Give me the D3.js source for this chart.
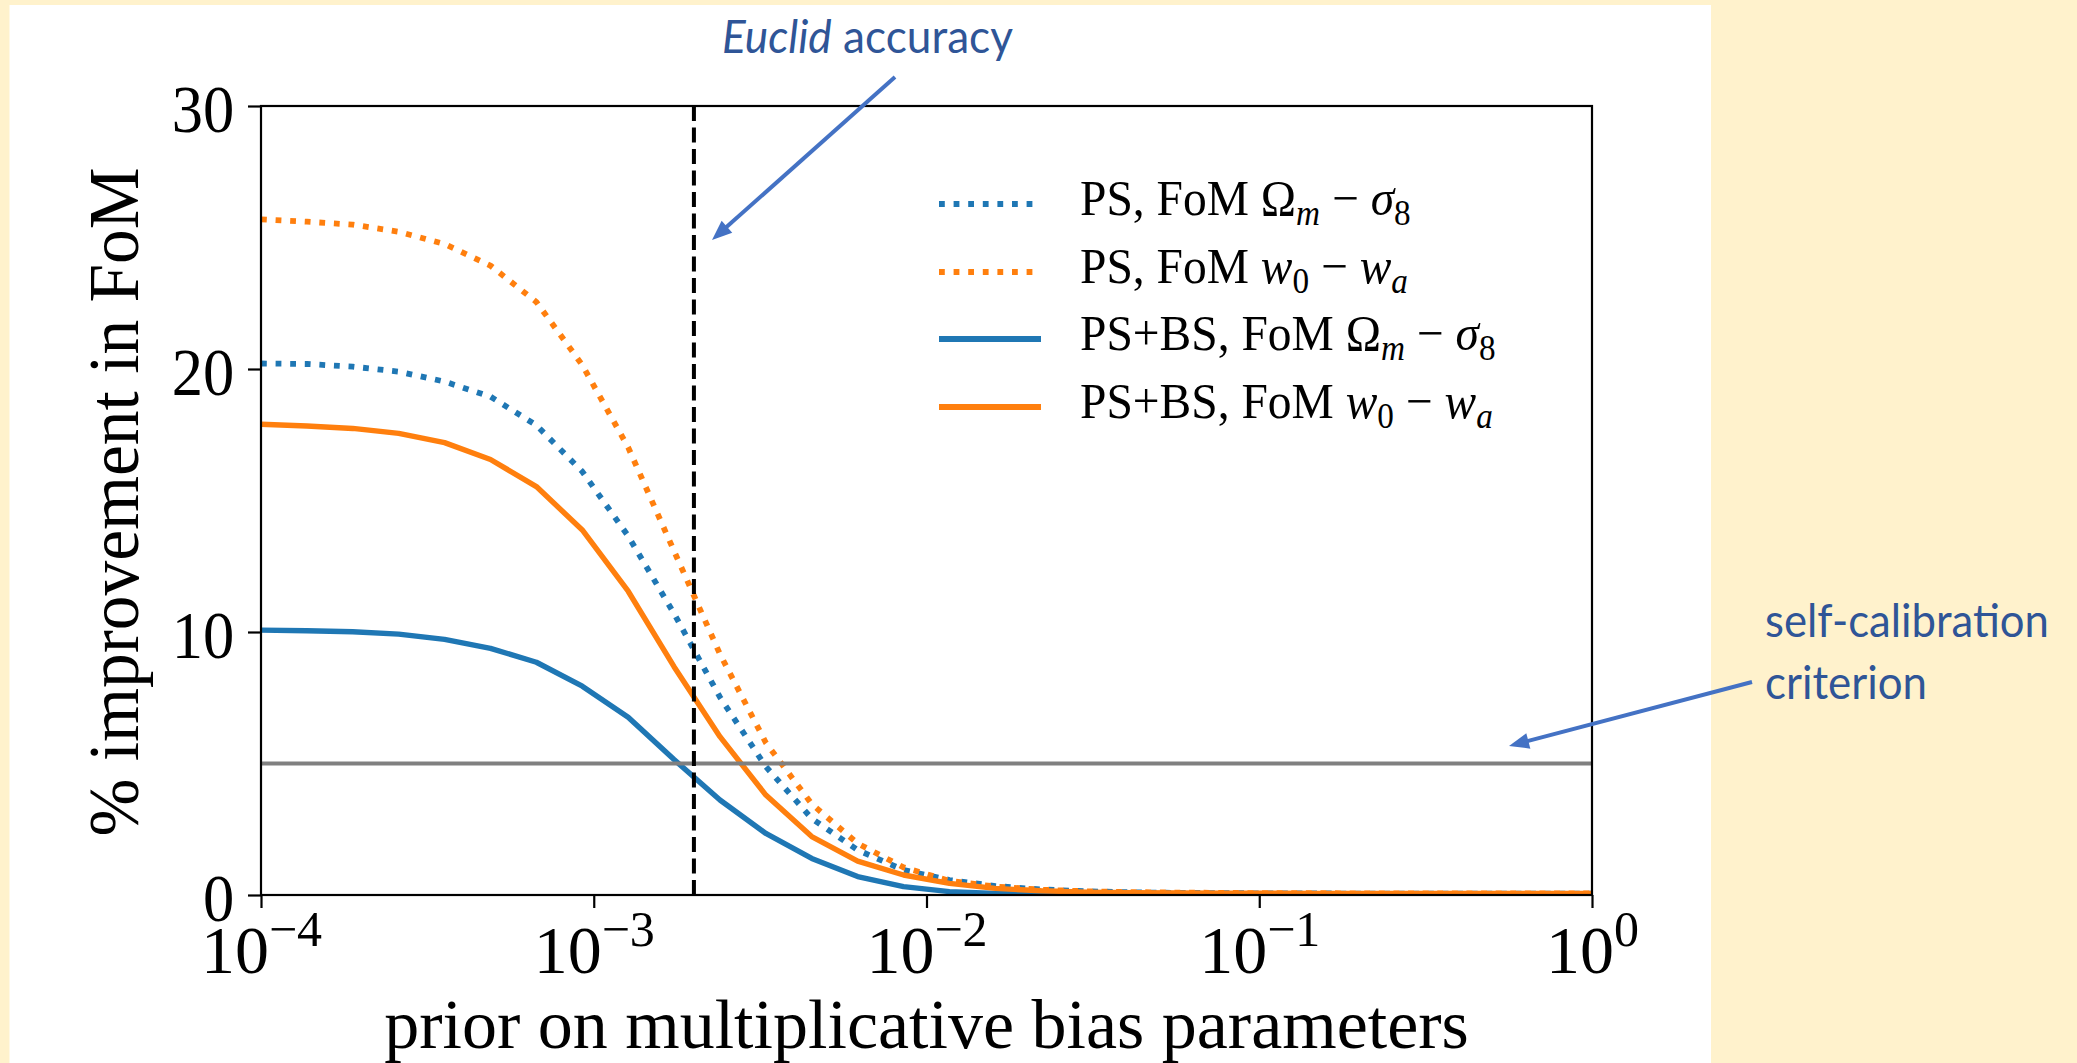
<!DOCTYPE html>
<html>
<head>
<meta charset="utf-8">
<script src="https://cdn.jsdelivr.net/npm/d3@7"></script>
<style>
  body { margin: 0; background: #fff2cc; }
  svg { display: block; }
</style>
</head>
<body>
<svg id="chart" width="2077" height="1063"></svg>
<script>
// prior on the multiplicative bias (30 log-spaced samples)
const prior = [1.000e-4, 1.374e-4, 1.887e-4, 2.593e-4, 3.562e-4, 4.894e-4, 6.723e-4, 9.237e-4,
  1.269e-3, 1.743e-3, 2.395e-3, 3.290e-3, 4.520e-3, 6.210e-3, 8.532e-3,
  1.172e-2, 1.610e-2, 2.212e-2, 3.039e-2, 4.175e-2, 5.736e-2, 7.881e-2,
  0.1083, 0.1487, 0.2043, 0.2807, 0.3857, 0.5298, 0.7279, 1.0];

// % improvement in FoM
const ps_om = [20.21, 20.19, 20.09, 19.90, 19.52, 18.95, 17.86, 16.10, 13.65, 10.70, 7.52, 4.88, 2.91, 1.71, 0.95,
  0.57, 0.34, 0.21, 0.14, 0.10, 0.08, 0.07, 0.06, 0.06, 0.05, 0.05, 0.05, 0.05, 0.05, 0.05];
const ps_w = [25.69, 25.60, 25.49, 25.22, 24.75, 23.93, 22.55, 20.15, 17.02, 13.08, 9.16, 5.79, 3.46, 1.96, 1.05,
  0.54, 0.32, 0.20, 0.14, 0.11, 0.09, 0.08, 0.07, 0.07, 0.06, 0.06, 0.06, 0.06, 0.06, 0.06];
const psbs_om = [10.07, 10.05, 10.01, 9.92, 9.72, 9.38, 8.85, 7.94, 6.76, 5.15, 3.61, 2.34, 1.39, 0.70, 0.32,
  0.13, 0.06, 0.03, 0.02, 0.02, 0.02, 0.02, 0.02, 0.02, 0.02, 0.02, 0.02, 0.02, 0.02, 0.02];
const psbs_w = [17.90, 17.83, 17.74, 17.55, 17.20, 16.56, 15.53, 13.88, 11.55, 8.68, 6.02, 3.80, 2.22, 1.29, 0.76,
  0.44, 0.25, 0.16, 0.11, 0.09, 0.08, 0.07, 0.07, 0.06, 0.06, 0.06, 0.06, 0.06, 0.06, 0.06];

const y_ticks = [0, 10, 20, 30];
const x_ticks = [1e-4, 1e-3, 1e-2, 1e-1, 1];
const x_tick_exp = ["\u22124", "\u22123", "\u22122", "\u22121", "0"];

const euclid_prior = 2e-3;
const self_calib = 5;

// legend labels, split in pieces for the math parts
const legend_labels = [
  [{t: "PS, FoM "}, {t: "\u03A9"}, {t: "m", it: 1, sub: 1}, {t: " \u2212 "}, {t: "\u03C3", it: 1}, {t: "8", sub: 1}],
  [{t: "PS, FoM "}, {t: "w", it: 1}, {t: "0", sub: 1}, {t: " \u2212 "}, {t: "w", it: 1}, {t: "a", it: 1, sub: 1}],
  [{t: "PS+BS, FoM "}, {t: "\u03A9"}, {t: "m", it: 1, sub: 1}, {t: " \u2212 "}, {t: "\u03C3", it: 1}, {t: "8", sub: 1}],
  [{t: "PS+BS, FoM "}, {t: "w", it: 1}, {t: "0", sub: 1}, {t: " \u2212 "}, {t: "w", it: 1}, {t: "a", it: 1, sub: 1}]
];

const series_values = [ps_om, ps_w, psbs_om, psbs_w];
const blue = "#1f77b4", orange = "#ff7f0e";
const styles = [
  {color: blue, dash: "5.8,8.8"},
  {color: orange, dash: "5.8,8.8"},
  {color: blue, dash: null},
  {color: orange, dash: null}
];

const serif = "'Liberation Serif', 'Times New Roman', serif";
const sans = "Lato, 'Open Sans', sans-serif";

const svg = d3.select("#chart");
const plot_l = 261, plot_r = 1592, plot_t = 106, plot_b = 895;

// white slide panel
svg.append("rect").attr("x", 9.5).attr("y", 5).attr("width", 1701.5).attr("height", 1063)
  .attr("fill", "#ffffff");

const x = d3.scaleLog().domain([1e-4, 1]).range([plot_l, plot_r]);
const y = d3.scaleLinear().domain([0, 30]).range([plot_b, plot_t]);

svg.append("clipPath").attr("id", "clip")
  .append("rect").attr("x", plot_l).attr("y", plot_t).attr("width", plot_r - plot_l).attr("height", plot_b - plot_t);

const line = d3.line().x(d => x(d[0])).y(d => y(d[1]));

const curves = svg.append("g").attr("clip-path", "url(#clip)");
series_values.forEach((vals, i) => {
  curves.append("path")
    .datum(prior.map((p, k) => [p, vals[k]]))
    .attr("d", line)
    .attr("fill", "none")
    .attr("stroke", styles[i].color)
    .attr("stroke-width", styles[i].dash ? 5.8 : 5.4)
    .attr("stroke-linejoin", "round")
    .attr("stroke-dasharray", styles[i].dash);
});

// self-calibration criterion and Euclid accuracy
curves.append("line")
  .attr("x1", plot_l).attr("x2", plot_r)
  .attr("y1", y(self_calib)).attr("y2", y(self_calib))
  .attr("stroke", "#808080").attr("stroke-width", 4);
curves.append("line")
  .attr("x1", x(euclid_prior)).attr("x2", x(euclid_prior))
  .attr("y1", plot_t).attr("y2", plot_b)
  .attr("stroke", "#000").attr("stroke-width", 4)
  .attr("stroke-dasharray", "15,6.5");

// frame
svg.append("rect").attr("x", plot_l).attr("y", plot_t)
  .attr("width", plot_r - plot_l).attr("height", plot_b - plot_t)
  .attr("fill", "none").attr("stroke", "#000").attr("stroke-width", 2.2);

// y axis
const gy = svg.append("g").attr("transform", `translate(${plot_l},0)`)
  .call(d3.axisLeft(y).tickValues(y_ticks).tickSize(13).tickPadding(16).tickFormat(d3.format("d")));
gy.select(".domain").remove();
gy.selectAll(".tick line").attr("stroke-width", 2.2);
gy.selectAll(".tick text")
  .attr("font-family", serif).attr("font-size", 68).attr("fill", "#000").attr("dy", "0.37em")
  .attr("transform", "scale(0.92,1)");

// x axis
const gx = svg.append("g").attr("transform", `translate(0,${plot_b})`)
  .call(d3.axisBottom(x).tickValues(x_ticks).tickSize(13).tickFormat(() => ""));
gx.select(".domain").remove();
gx.selectAll(".tick line").attr("stroke-width", 2.2);
gx.selectAll(".tick text").each(function(d, i) {
  const t = d3.select(this).attr("y", 78).attr("dy", 0)
    .attr("font-family", serif).attr("fill", "#000");
  t.append("tspan").attr("font-size", 68).text("10");
  t.append("tspan").attr("font-size", 50).attr("dy", -27).text(x_tick_exp[i]);
});

// axis titles
svg.append("text")
  .attr("transform", "translate(138,502) rotate(-90)")
  .attr("text-anchor", "middle")
  .attr("font-family", serif).attr("font-size", 72)
  .attr("textLength", 669).attr("lengthAdjust", "spacingAndGlyphs")
  .text("% improvement in FoM");

svg.append("text")
  .attr("x", (plot_l + plot_r) / 2).attr("y", 1048)
  .attr("text-anchor", "middle")
  .attr("font-family", serif).attr("font-size", 70)
  .text("prior on multiplicative bias parameters");

// legend
const legend_y = [204, 272, 339, 407];
const lg = svg.append("g");
legend_labels.forEach((parts, i) => {
  lg.append("line")
    .attr("x1", 939).attr("x2", 1041)
    .attr("y1", legend_y[i]).attr("y2", legend_y[i])
    .attr("stroke", styles[i].color).attr("stroke-width", 5.8)
    .attr("stroke-dasharray", styles[i].dash);
  const t = lg.append("text")
    .attr("transform", `translate(1080,${legend_y[i] + 11}) scale(0.95,1)`)
    .attr("font-family", serif).attr("font-size", 50).attr("fill", "#000");
  let shift = 0;
  parts.forEach(p => {
    const s = t.append("tspan").attr("font-family", serif).text(p.t);
    if (p.it) s.attr("font-style", "italic");
    const want = p.sub ? 10 : 0;
    if (want !== shift) { s.attr("dy", want - shift); shift = want; }
    if (p.sub) s.attr("font-size", 35);
  });
});

// annotations
function arrow(x1, y1, x2, y2) {
  const a = Math.atan2(y2 - y1, x2 - x1);
  const len = 20, half = 8;
  const bx = x2 - len * Math.cos(a), by = y2 - len * Math.sin(a);
  svg.append("line").attr("x1", x1).attr("y1", y1)
    .attr("x2", bx + 4 * Math.cos(a)).attr("y2", by + 4 * Math.sin(a))
    .attr("stroke", "#4472c4").attr("stroke-width", 4);
  const px = -Math.sin(a) * half, py = Math.cos(a) * half;
  svg.append("path")
    .attr("d", `M${x2},${y2}L${bx + px},${by + py}L${bx - px},${by - py}Z`)
    .attr("fill", "#4472c4");
}

const et = svg.append("text")
  .attr("x", 722).attr("y", 53)
  .attr("font-family", sans).attr("font-size", 46).attr("fill", "#2f5597")
  .attr("textLength", 291).attr("lengthAdjust", "spacingAndGlyphs");
et.append("tspan").attr("font-style", "italic").text("Euclid");
et.append("tspan").text(" accuracy");
arrow(895, 77, 712, 240);

svg.append("text")
  .attr("x", 1765).attr("y", 637)
  .attr("font-family", sans).attr("font-size", 46).attr("fill", "#2f5597")
  .attr("textLength", 284).attr("lengthAdjust", "spacingAndGlyphs")
  .text("self-calibration");
svg.append("text")
  .attr("x", 1765).attr("y", 699)
  .attr("font-family", sans).attr("font-size", 46).attr("fill", "#2f5597")
  .attr("textLength", 162).attr("lengthAdjust", "spacingAndGlyphs")
  .text("criterion");
arrow(1752, 682, 1509, 746);
</script>
</body>
</html>
